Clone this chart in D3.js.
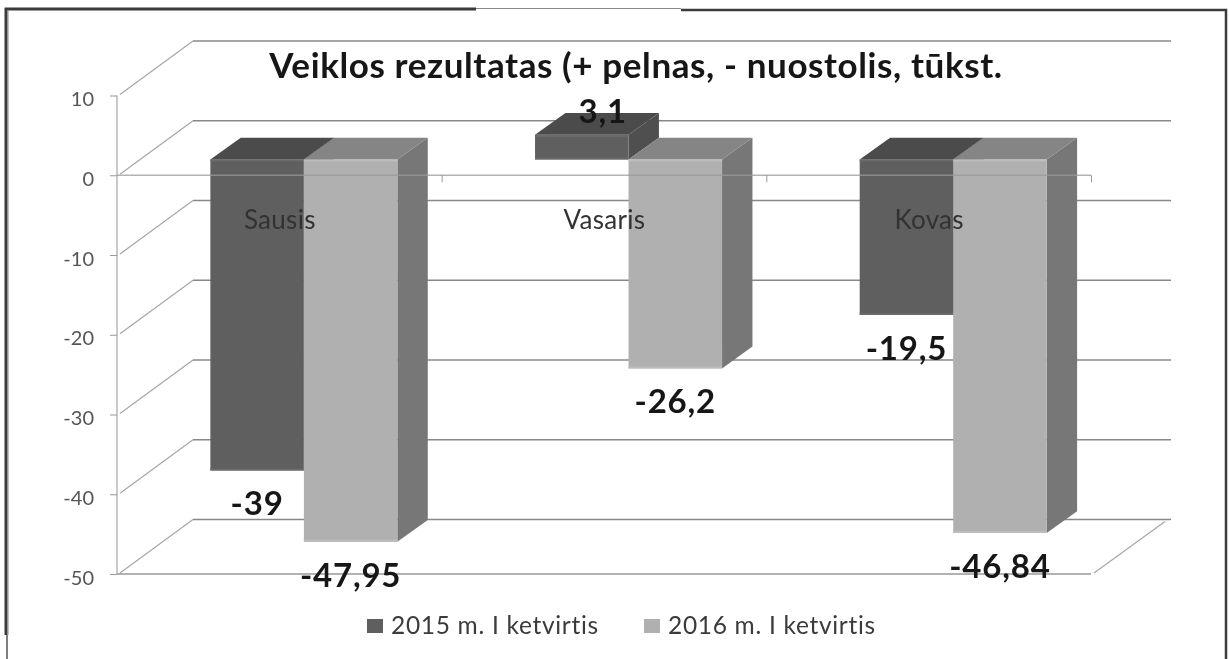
<!DOCTYPE html>
<html><head><meta charset="utf-8">
<script src="https://cdn.jsdelivr.net/npm/d3@7/dist/d3.min.js"></script>
<style>html,body{margin:0;padding:0;background:#fff;overflow:hidden}svg{display:block}text{font-family:Lato,"Open Sans",sans-serif}</style>
</head><body>
<script>
const titleText = "Veiklos rezultatas (+ pelnas, - nuostolis, tūkst.";
const categories = ["Sausis", "Vasaris", "Kovas"];
const seriesNames = ["2015 m. I ketvirtis", "2016 m. I ketvirtis"];
const values2015 = [-39, 3.1, -19.5];
const values2016 = [-47.95, -26.2, -46.84];
const labels2015 = ["-39", "3,1", "-19,5"];
const labels2016 = ["-47,95", "-26,2", "-46,84"];
const yTicks = [10, 0, -10, -20, -30, -40, -50];

const W = 1229, H = 659;
const svg = d3.select("body").append("svg").attr("width", W).attr("height", H);
const defs = svg.append("defs");
defs.append("filter").attr("id", "soft").attr("x", "-2%").attr("y", "-2%").attr("width", "104%").attr("height", "104%")
  .append("feGaussianBlur").attr("stdDeviation", 0.6);
svg.append("rect").attr("width", W).attr("height", H).attr("fill", "#fff");
const g = svg.append("g").attr("filter", "url(#soft)");

const y = d3.scaleLinear().domain([-50, 10]).range([574, 95.5]);
const xEdge = d3.scaleLinear().domain([0, 3]).range([117, 1091]);
const depth = d3.scaleLinear().domain([0, 1]).range([0, 1]);
const DX = 76, DY = -54.5;
const px = d => depth(d) * DX, py = d => depth(d) * DY;
const barFront = 0.29, barBack = 0.69;

const x0 = d3.scaleBand().domain(categories).range([119.5, 1093.5]).paddingInner(0.424).paddingOuter(0.212);
const x1 = d3.scaleBand().domain([0, 1]).range([0, x0.bandwidth()]);

// frame
const frame = g.append("g").attr("fill", "none");
frame.append("path").attr("d", "M6,635V9H476").attr("stroke", "#3a3a3a").attr("stroke-width", 3);
frame.append("path").attr("d", "M8,10V635").attr("stroke", "#888").attr("stroke-width", 1);
frame.append("path").attr("d", "M7,635V659").attr("stroke", "#555").attr("stroke-width", 1.5);
frame.append("path").attr("d", "M476,8.5H681").attr("stroke", "#888").attr("stroke-width", 1);
frame.append("path").attr("d", "M681,10H1226V659").attr("stroke", "#3a3a3a").attr("stroke-width", 2.5);

// back wall gridlines and side wall diagonals
const grid = g.append("g");
grid.selectAll("line.back").data(yTicks).join("line").attr("class", "back")
  .attr("x1", xEdge(0) + px(1)).attr("x2", xEdge(3) + px(1) + 4)
  .attr("y1", d => y(d) + py(1)).attr("y2", d => y(d) + py(1))
  .attr("stroke", "#888").attr("stroke-width", 1.6);
grid.selectAll("line.side").data(yTicks).join("line").attr("class", "side")
  .attr("x1", xEdge(0) + 3).attr("x2", xEdge(0) + px(1))
  .attr("y1", d => y(d) - 1).attr("y2", d => y(d) + py(1))
  .attr("stroke", "#a6a6a6").attr("stroke-width", 1.2);
// floor: front edge and right diagonal
grid.append("line").attr("x1", xEdge(0)).attr("x2", xEdge(3)).attr("y1", y(-50)).attr("y2", y(-50))
  .attr("stroke", "#999").attr("stroke-width", 1.4);
grid.append("line").attr("x1", xEdge(3) + 3).attr("x2", xEdge(3) + px(1) - 2).attr("y1", y(-50) - 1).attr("y2", y(-50) + py(1) + 2)
  .attr("stroke", "#a6a6a6").attr("stroke-width", 1.2);

// y axis
const yAxis = g.append("g").attr("transform", `translate(${xEdge(0)},0)`)
  .call(d3.axisLeft(y).tickValues(yTicks).tickSize(7).tickPadding(16).tickFormat(d => String(d)));
yAxis.select(".domain").attr("stroke", "#a6a6a6").attr("stroke-width", 1.2).attr("d", `M0,${y(10)}V${y(-50)}`);
yAxis.selectAll(".tick line").attr("stroke", "#999");
yAxis.selectAll("text").attr("fill", "#555").attr("font-size", 20).attr("dy", "0.5em").attr("font-family", "Lato");

// bars
const colors = [
  {front: "#5f5f5f", top: "#4b4b4b", side: "#4f4f4f", edge: "#6a6a6a"},
  {front: "#b0b0b0", top: "#858585", side: "#777777", edge: "#bdbdbd"}
];
const rows = [];
categories.forEach((c, i) => {
  rows.push({cat: c, s: 0, v: values2015[i], label: labels2015[i]});
  rows.push({cat: c, s: 1, v: values2016[i], label: labels2016[i]});
});
const fx = d => x0(d.cat) + x1(d.s) + px(barFront);
const bw = x1.bandwidth();
const Y = (v, d) => y(v) + py(d);
const poly = pts => pts.map(p => p.join(",")).join(" ");
const bars = g.append("g");
// 2015 then 2016, so the lighter bar's depth covers the darker bar
rows.forEach(d => {
  const b = bars.append("g");
  const hi = Math.max(d.v, 0), lo = Math.min(d.v, 0);
  const L = fx(d), R = L + bw, ox = px(barBack - barFront);
  const c = colors[d.s];
  b.append("polygon").attr("points", poly([[R, Y(hi, barFront)], [R + ox, Y(hi, barBack)], [R + ox, Y(lo, barBack)], [R, Y(lo, barFront)]]))
    .attr("fill", c.side);
  b.append("polygon").attr("points", poly([[L, Y(hi, barFront)], [L + ox, Y(hi, barBack)], [R + ox, Y(hi, barBack)], [R, Y(hi, barFront)]]))
    .attr("fill", c.top);
  b.append("rect").attr("x", L).attr("y", Y(hi, barFront)).attr("width", bw).attr("height", Y(lo, barFront) - Y(hi, barFront))
    .attr("fill", c.front);
  b.append("line").attr("x1", L).attr("x2", R).attr("y1", Y(lo, barFront) - 1).attr("y2", Y(lo, barFront) - 1)
    .attr("stroke", c.edge).attr("stroke-width", 2);
  b.append("line").attr("x1", L).attr("x2", R).attr("y1", Y(hi, barFront) + 1).attr("y2", Y(hi, barFront) + 1)
    .attr("stroke", c.edge).attr("stroke-width", 2);
});

// category axis over the bars, at value 0
const xAxis = g.append("g").attr("transform", `translate(0,${y(0)})`)
  .call(d3.axisBottom(xEdge).tickValues([1, 2, 3]).tickSize(7).tickFormat(""));
xAxis.select(".domain").attr("stroke", "#9a9a9a").attr("stroke-opacity", 0.75).attr("stroke-width", 1.3).attr("d", `M${xEdge(0)},0H${xEdge(3)}`);
xAxis.selectAll(".tick line").attr("stroke", "#999");

// category labels
g.append("g").selectAll("text").data(categories).join("text")
  .attr("x", c => x0(c) + x0.bandwidth() / 2 - 2)
  .attr("y", y(0) + 54)
  .attr("text-anchor", "middle").attr("font-size", 26).attr("letter-spacing", 0.3).attr("fill", "#333")
  .text(c => c);

// data labels
g.append("g").selectAll("text").data(rows).join("text")
  .attr("x", d => fx(d) + bw / 2 + (d.v > 0 ? 21 : 0))
  .attr("y", d => d.v > 0 ? y(d.v) + py(barFront) - 12 : y(d.v) + py(barFront) + 45)
  .attr("text-anchor", "middle").attr("font-size", 33).attr("letter-spacing", 0.8).attr("font-weight", 700).attr("fill", "#151515")
  .text(d => d.label);

// title
g.append("text").attr("x", 636).attr("y", 78).attr("text-anchor", "middle")
  .attr("font-size", 35).attr("letter-spacing", 0.6).attr("font-weight", 700).attr("fill", "#151515").text(titleText);

// legend
const legendX = d3.scaleOrdinal().domain([0, 1]).range([367, 644]);
const leg = g.append("g").selectAll("g").data(seriesNames).join("g")
  .attr("transform", (d, i) => `translate(${legendX(i)},619)`);
leg.append("rect").attr("width", 16).attr("height", 14).attr("fill", (d, i) => colors[i].front);
leg.append("text").attr("x", 24).attr("y", 15).attr("font-size", 24.5).attr("letter-spacing", 0.7).attr("fill", "#3a3a3a").text(d => d);
</script>
</body></html>
